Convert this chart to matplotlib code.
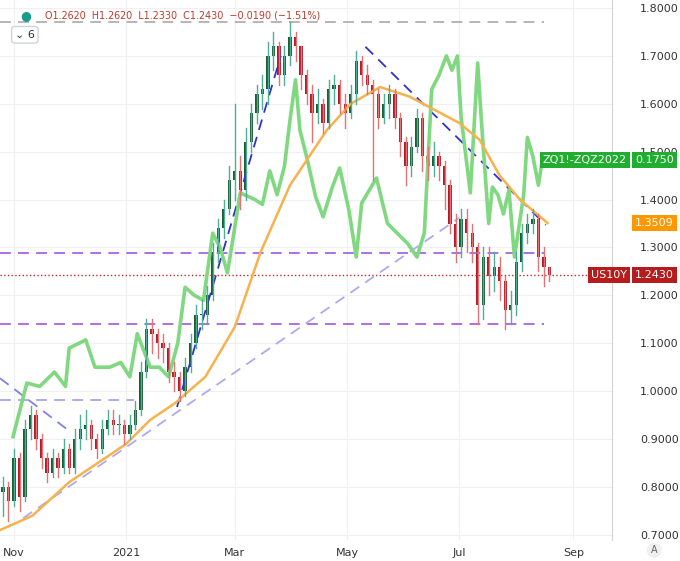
import matplotlib.pyplot as plt
import numpy as np

# days since 2020-11-01, one candle every 3 days
days = list(range(-6, 292, 3))
closes = [0.80, 0.77, 0.86, 0.78, 0.92, 0.95, 0.90, 0.86, 0.83, 0.86, 0.84, 0.88, 0.84, 0.90,
          0.92, 0.93, 0.90, 0.88, 0.92, 0.94, 0.93, 0.93, 0.91, 0.93, 0.96, 1.04, 1.13, 1.12,
          1.10, 1.09, 1.04, 1.03, 1.00, 1.05, 1.10, 1.16, 1.16, 1.20, 1.29, 1.34, 1.38, 1.44,
          1.46, 1.42, 1.52, 1.58, 1.62, 1.63, 1.70, 1.72, 1.66, 1.70, 1.74, 1.72, 1.66, 1.62,
          1.58, 1.60, 1.56, 1.63, 1.64, 1.60, 1.58, 1.62, 1.69, 1.66, 1.64, 1.62, 1.57, 1.60,
          1.62, 1.57, 1.52, 1.47, 1.51, 1.57, 1.49, 1.47, 1.49, 1.47, 1.43, 1.35, 1.30, 1.36,
          1.33, 1.30, 1.18, 1.28, 1.24, 1.26, 1.23, 1.17, 1.18, 1.27, 1.33, 1.35, 1.36, 1.28,
          1.26, 1.243]
opens = [0.79] + closes[:-1]
highs = [0.82, 0.81, 0.88, 0.87, 0.94, 0.97, 0.96, 0.91, 0.87, 0.88, 0.87, 0.90, 0.89, 0.92,
         0.95, 0.96, 0.94, 0.91, 0.94, 0.96, 0.96, 0.95, 0.94, 0.95, 0.98, 1.06, 1.15, 1.15,
         1.13, 1.12, 1.10, 1.06, 1.04, 1.07, 1.12, 1.18, 1.19, 1.22, 1.31, 1.36, 1.40, 1.47,
         1.60, 1.49, 1.55, 1.60, 1.64, 1.66, 1.73, 1.75, 1.73, 1.72, 1.77, 1.75, 1.72, 1.67,
         1.64, 1.63, 1.61, 1.65, 1.66, 1.65, 1.62, 1.64, 1.71, 1.70, 1.68, 1.65, 1.63, 1.62,
         1.64, 1.63, 1.58, 1.53, 1.53, 1.59, 1.58, 1.51, 1.52, 1.50, 1.48, 1.44, 1.37, 1.38,
         1.38, 1.35, 1.31, 1.30, 1.30, 1.29, 1.28, 1.24, 1.21, 1.29, 1.35, 1.37, 1.38, 1.37,
         1.30, 1.26]
lows = [0.74, 0.73, 0.76, 0.75, 0.77, 0.90, 0.88, 0.84, 0.81, 0.82, 0.82, 0.83, 0.83, 0.83,
        0.88, 0.90, 0.88, 0.86, 0.87, 0.91, 0.91, 0.91, 0.89, 0.90, 0.92, 0.95, 1.03, 1.08,
        1.07, 1.06, 1.02, 1.00, 0.98, 0.99, 1.04, 1.09, 1.13, 1.14, 1.19, 1.27, 1.32, 1.37,
        1.40, 1.38, 1.40, 1.50, 1.56, 1.59, 1.60, 1.67, 1.64, 1.64, 1.68, 1.69, 1.63, 1.60,
        1.52, 1.56, 1.54, 1.55, 1.60, 1.58, 1.55, 1.57, 1.60, 1.64, 1.62, 1.44, 1.55, 1.56,
        1.57, 1.55, 1.49, 1.43, 1.45, 1.50, 1.46, 1.44, 1.45, 1.44, 1.38, 1.33, 1.27, 1.28,
        1.29, 1.27, 1.14, 1.15, 1.20, 1.21, 1.19, 1.13, 1.14, 1.16, 1.25, 1.31, 1.33, 1.25,
        1.22, 1.23]

# 50-day average (price scale)
ma_days = [-7.6, 10, 30, 61, 74, 87.5, 104, 120, 134, 150, 170, 183, 199, 215, 242, 253, 264, 275, 290]
ma_vals = [0.71, 0.74, 0.81, 0.89, 0.94, 0.975, 1.03, 1.134, 1.29, 1.43, 1.545, 1.60, 1.635, 1.615,
           1.56, 1.525, 1.45, 1.40, 1.351]

# ZQ1!-ZQZ2022 spread, drawn as overlay at its price-scale position
zq_days = [-0.5, 7, 14, 22, 28, 30, 39, 44, 52, 58, 63, 67, 74, 79, 84, 89, 93, 98, 103,
           108, 112, 116, 123, 131, 135, 139, 143, 147, 150, 153, 155.4, 159, 164, 168, 173,
           177, 182, 186, 189, 197, 203, 214, 219, 223, 227, 231, 235, 238, 241, 243, 248,
           252, 254, 258, 260, 263, 266, 269, 272, 277, 279, 282, 285, 287, 290]
zq_vals = [0.905, 1.017, 1.01, 1.04, 1.01, 1.09, 1.107, 1.05, 1.05, 1.06, 1.03, 1.12, 1.05,
           1.05, 1.03, 1.10, 1.217, 1.20, 1.19, 1.33, 1.30, 1.247, 1.414, 1.40, 1.39, 1.46,
           1.41, 1.47, 1.566, 1.65, 1.545, 1.49, 1.405, 1.364, 1.426, 1.466, 1.378, 1.28,
           1.393, 1.445, 1.35, 1.308, 1.28, 1.33, 1.63, 1.66, 1.70, 1.67, 1.70, 1.572, 1.414,
           1.685, 1.566, 1.35, 1.426, 1.41, 1.37, 1.42, 1.28, 1.41, 1.53, 1.49, 1.43, 1.48, 1.483]

xt_days = [0, 61, 120, 181, 242, 304]
xt_labels = ['Nov', '2021', 'Mar', 'May', 'Jul', 'Sep']
yt = np.arange(0.7, 1.81, 0.1)

fig = plt.figure(figsize=(6.8, 5.61), dpi=100)
ax = fig.add_axes([0, 1 - 540 / 561, 612 / 680, 540 / 561])
ax.set_xlim(-7.6, 325)
ax.set_ylim(0.6893, 1.8167)
for s in ax.spines.values():
    s.set_visible(False)
ax.spines['right'].set_visible(True)
ax.spines['right'].set_color('#d0d3db')
ax.yaxis.tick_right()
ax.set_yticks(yt)
ax.set_yticklabels(['%.4f' % v for v in yt], fontsize=8, color='#333')
ax.set_xticks(xt_days)
ax.set_xticklabels(xt_labels, fontsize=8, color='#333')
ax.tick_params(axis='y', length=0, pad=20)
ax.tick_params(axis='x', length=0, pad=6)
ax.grid(color='#eef0f3', linewidth=0.8)
ax.set_axisbelow(True)

# reference lines
dash = dict(ls='--', lw=1.3, dashes=(6, 4))
ax.plot([-7.6, 288], [1.77, 1.77], color='#b0b0b0', **dash)
ax.plot([-7.6, 288], [1.288, 1.288], color='#a864e0', **dash)
ax.plot([-7.6, 288], [1.140, 1.140], color='#a864e0', **dash)
ax.plot([-7.6, 65], [0.982, 0.982], color='#a8a4f0', **dash)
ax.plot([-7.6, 325], [1.243, 1.243], color='#c62828', ls=':', lw=1)
ax.plot([5, 242], [0.735, 1.362], color='#b0a8f0', **dash)
ax.plot([-7.6, 29], [1.027, 0.92], color='#8080e8', **dash)
ax.plot([88.6, 145], [0.967, 1.70], color='#3030d0', **dash)
ax.plot([191, 289], [1.719, 1.347], color='#3030d0', **dash)

ax.plot(zq_days, zq_vals, color='#80d880', lw=2.6)
ax.plot(ma_days, ma_vals, color='#f7b24d', lw=1.8)

for d, o, h, l, c in zip(days, opens, highs, lows, closes):
    up = c >= o
    wick = '#4fae96' if up else '#e57373'
    body = '#1b5e34' if up else '#b31b2b'
    ax.plot([d, d], [l, h], color=wick, lw=1)
    ax.bar(d, max(abs(c - o), 0.002), bottom=min(o, c), width=1.8, color=body)

# price tags on the axis
def tag(y, txt, col, name=None):
    yf = ax.transData.transform((0, y))[1] / fig.bbox.height
    fig.text(635 / 680, yf, txt, fontsize=8, color='white', va='center', ha='left',
             bbox=dict(boxstyle='square,pad=0.25', fc=col, ec='none'))
    if name:
        fig.text(627 / 680, yf, name, fontsize=8, color='white', va='center', ha='right',
                 bbox=dict(boxstyle='square,pad=0.25', fc=col, ec='none'))

tag(1.483, '0.1750', '#1fae2e', 'ZQ1!-ZQZ2022')
tag(1.351, '1.3509', '#ff9800')
tag(1.243, '1.2430', '#b71c1c', 'US10Y')

fig.text(0.030, 0.972, '●', color='#1a9c8c', fontsize=9, va='center')
fig.text(0.066, 0.972, 'O1.2620  H1.2620  L1.2330  C1.2430  −0.0190 (−1.51%)',
         color='#c0392b', fontsize=6.9, va='center')
fig.text(0.022, 0.938, '⌄ 6', color='#333', fontsize=8, va='center',
         bbox=dict(boxstyle='round,pad=0.3', fc='white', ec='#d0d3db'))
fig.text(0.962, 0.019, 'A', color='#666', fontsize=7, ha='center', va='center',
         bbox=dict(boxstyle='circle,pad=0.25', fc='#f0f0f0', ec='none'))

fig.savefig('out.png', dpi=100)
